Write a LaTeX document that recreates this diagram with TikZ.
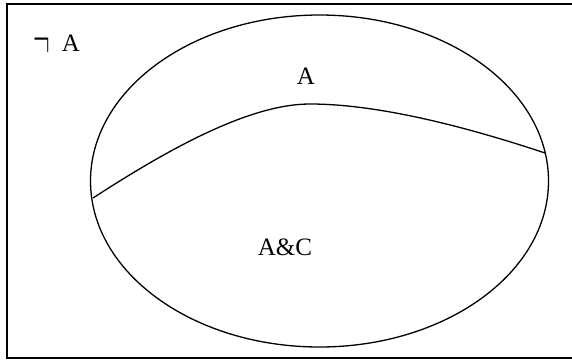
\documentclass[tikz,border=0pt]{standalone}
\usetikzlibrary{shapes.geometric}
\usepackage{fontspec}
\setmainfont{Liberation Serif}
\begin{document}
\begin{tikzpicture}[x=1pt,y=-1pt,
  line/.style={line width=1.3pt, black},
  lbl/.style={font=\fontsize{25}{29}\selectfont, inner sep=0pt}]
\useasboundingbox (0,0) rectangle (572,360);
\fill[white] (0,0) rectangle (572,360);
\draw[line width=2pt] (572,4) -- (7,4) -- (7,358) -- (572,358);
\node[draw, line width=1.3pt, ellipse, minimum width=458pt, minimum height=332pt, inner sep=0pt] (ell) at (319.5,181) {};
\coordinate (l) at (93,198);
\coordinate (r) at (545,153);
\draw[line] (l) .. controls (170,148) and (250,104) .. (310,104) .. controls (380,104) and (470,128) .. (r);
\node[lbl, anchor=base west] (na) at (33,51) {\raisebox{-6pt}{\scalebox{1}[2.2]{$\neg$}}\hspace{12pt}A};
\node[lbl] (a) at (306,76) {A};
\node[lbl] (ac) at (285,247) {A\&C};
\end{tikzpicture}
\end{document}
